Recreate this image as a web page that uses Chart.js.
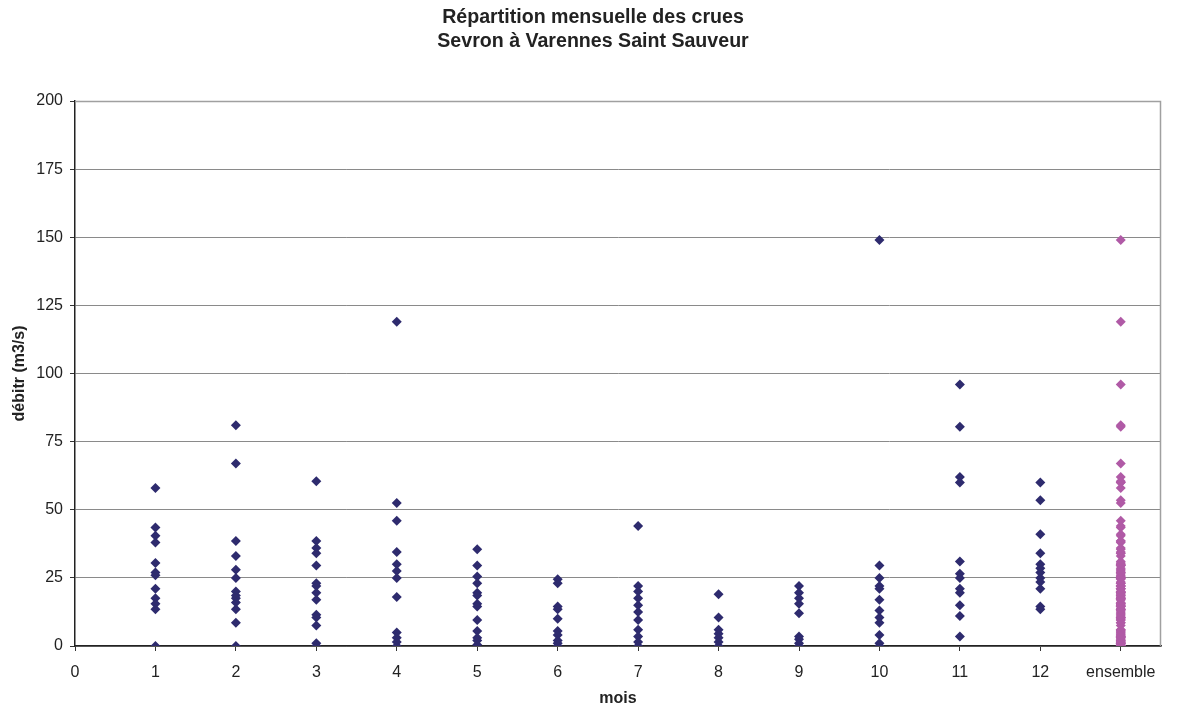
<!DOCTYPE html>
<html>
<head>
<meta charset="utf-8">
<script src="https://cdn.jsdelivr.net/npm/chart.js@4.4.1/dist/chart.umd.min.js"></script>
<style>
  html, body { margin: 0; padding: 0; background: #fff; }
  #wrap { width: 1186px; height: 708px; }
</style>
</head>
<body>
<div id="wrap"><canvas id="c"></canvas></div>
<script>
// Débits de crue (m3/s) relevés pour chaque mois
const mois1  = [58, 43.5, 40.5, 38, 30.5, 27, 26, 21, 17.5, 15.5, 13.5, 0];
const mois2  = [81, 67, 38.5, 33, 28, 25, 20, 18.5, 17.5, 16, 13.5, 8.5, 0];
const mois3  = [60.5, 38.5, 36, 34, 29.5, 23, 22, 19.5, 17, 11.5, 10.5, 7.5, 1, 0];
const mois4  = [119, 52.5, 46, 34.5, 30, 27.5, 25, 18, 5, 3, 1.5, 0];
const mois5  = [35.5, 29.5, 25.5, 23, 19.5, 18.5, 15.5, 14.5, 9.5, 5.5, 3, 2, 0.5];
const mois6  = [24.5, 23, 14.5, 13.5, 10, 5.5, 4, 2, 1, 0];
const mois7  = [44, 22, 20, 17.5, 15, 12.5, 9.5, 6, 3.5, 1.5, 0];
const mois8  = [19, 10.5, 6, 4.5, 3, 1.5, 0];
const mois9  = [22, 19.5, 17.5, 15.5, 12, 3.5, 2.5, 1, 0];
const mois10 = [149, 29.5, 25, 22, 21, 17, 13, 10.5, 8.5, 4, 1, 0];
const mois11 = [96, 80.5, 62, 60, 31, 26.5, 25, 21, 19.5, 15, 11, 3.5];
const mois12 = [60, 53.5, 41, 34, 30, 28.5, 27, 25, 23.5, 21, 14.5, 13.5];

const parMois = [mois1, mois2, mois3, mois4, mois5, mois6, mois7, mois8, mois9, mois10, mois11, mois12];
const positionEnsemble = 13;
const xTicks = [0, 1, 2, 3, 4, 5, 6, 7, 8, 9, 10, 11, 12, 13];
const xTickLabels = ['0', '1', '2', '3', '4', '5', '6', '7', '8', '9', '10', '11', '12', 'ensemble'];
const yTicks = [0, 25, 50, 75, 100, 125, 150, 175, 200];
const titreLignes = ['Répartition mensuelle des crues', 'Sevron à Varennes Saint Sauveur'];

// Points par mois (x = numéro du mois) et colonne « ensemble » regroupant toutes les crues
const pointsMois = [];
parMois.forEach((vals, i) => vals.forEach(v => pointsMois.push({ x: i + 1, y: v })));
const pointsEnsemble = [];
parMois.forEach(vals => vals.forEach(v => pointsEnsemble.push({ x: positionEnsemble, y: v })));

const FONT = "'Liberation Sans', Arial, sans-serif";

// Cadre gris du haut et de droite de la zone de tracé
const cadre = {
  id: 'cadre',
  beforeDatasetsDraw(chart) {
    const { ctx, chartArea: a } = chart;
    ctx.save();
    ctx.strokeStyle = '#a0a0a0';
    ctx.lineWidth = 1.5;
    ctx.beginPath();
    ctx.moveTo(a.left, a.top + 0.5);
    ctx.lineTo(a.right - 0.5, a.top + 0.5);
    ctx.lineTo(a.right - 0.5, a.bottom);
    ctx.stroke();
    ctx.restore();
  }
};

// Titre sur deux lignes, centré sur toute la largeur du graphique
const titre = {
  id: 'titre',
  afterDraw(chart) {
    const { ctx, width } = chart;
    ctx.save();
    ctx.fillStyle = '#222';
    ctx.font = "bold 19.6px " + FONT;
    ctx.textAlign = 'center';
    ctx.textBaseline = 'middle';
    titreLignes.forEach((t, i) => ctx.fillText(t, width / 2, 18 + i * 24));
    ctx.restore();
  }
};

new Chart(document.getElementById('c'), {
  type: 'scatter',
  data: {
    datasets: [
      {
        label: 'mois',
        data: pointsMois,
        backgroundColor: '#2e2b6e',
        borderColor: '#2e2b6e',
        pointStyle: 'rectRot',
        pointRadius: 5,
        borderWidth: 0
      },
      {
        label: 'ensemble',
        data: pointsEnsemble,
        backgroundColor: '#b05aa6',
        borderColor: '#b05aa6',
        pointStyle: 'rectRot',
        pointRadius: 5,
        borderWidth: 0
      }
    ]
  },
  options: {
    responsive: true,
    maintainAspectRatio: false,
    animation: false,
    layout: { padding: { left: 0, right: 25, top: 101, bottom: 0 } },
    plugins: {
      legend: { display: false },
      tooltip: { enabled: false },
      title: { display: false }
    },
    scales: {
      x: {
        type: 'linear',
        min: 0,
        max: 13.5,
        afterBuildTicks: axis => { axis.ticks = xTicks.map(v => ({ value: v })); },
        afterFit: axis => { axis.height = 62; },
        ticks: {
          autoSkip: false,
          maxRotation: 0,
          padding: 12,
          color: '#222',
          font: { family: FONT, size: 16 },
          callback: v => xTickLabels[xTicks.indexOf(v)]
        },
        grid: { drawOnChartArea: false, drawTicks: true, tickLength: 5, color: '#333' },
        border: { color: '#222', width: 1.5 },
        title: {
          display: true,
          text: 'mois',
          color: '#222',
          font: { family: FONT, size: 16, weight: 'bold' },
          padding: { top: 0, bottom: 0 }
        }
      },
      y: {
        min: 0,
        max: 200,
        afterBuildTicks: axis => { axis.ticks = yTicks.map(v => ({ value: v })); },
        afterFit: axis => { axis.width = 75; },
        ticks: {
          padding: 7,
          color: '#222',
          font: { family: FONT, size: 16 }
        },
        grid: { color: '#8a8a8a', lineWidth: 1, tickLength: 5, tickColor: '#333' },
        border: { color: '#222', width: 1.5 },
        title: {
          display: true,
          text: 'débitr (m3/s)',
          color: '#222',
          font: { family: FONT, size: 16, weight: 'bold' },
          padding: { top: 10, bottom: 0 }
        }
      }
    }
  },
  plugins: [cadre, titre]
});
</script>
</body>
</html>
